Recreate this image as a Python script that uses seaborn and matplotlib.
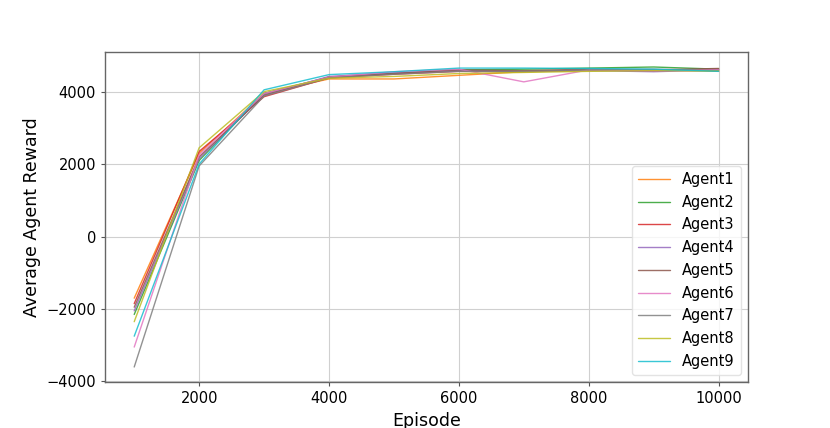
"""Average agent reward per episode, one line per agent."""

import matplotlib
matplotlib.use("Agg")
import matplotlib.pyplot as plt
import seaborn as sns
import pandas as pd

episodes = [1000, 2000, 3000, 4000, 5000, 6000, 7000, 8000, 9000, 10000]

agent1 = [-1700, 2300, 3950, 4350, 4350, 4450, 4550, 4580, 4600, 4560]
agent2 = [-2150, 2100, 3950, 4400, 4500, 4600, 4620, 4650, 4680, 4620]
agent3 = [-1850, 2350, 3860, 4380, 4480, 4560, 4550, 4600, 4570, 4620]
agent4 = [-2050, 2150, 3920, 4420, 4520, 4580, 4560, 4580, 4550, 4600]
agent5 = [-1950, 2200, 3900, 4400, 4500, 4600, 4580, 4620, 4600, 4640]
agent6 = [-3050, 2250, 3950, 4400, 4550, 4620, 4270, 4600, 4580, 4600]
agent7 = [-3600, 1950, 3880, 4380, 4480, 4560, 4560, 4600, 4620, 4580]
agent8 = [-2350, 2450, 4000, 4370, 4420, 4500, 4530, 4560, 4580, 4570]
agent9 = [-2750, 2000, 4050, 4470, 4550, 4650, 4650, 4640, 4620, 4560]

agent_names = ["Agent1", "Agent2", "Agent3", "Agent4", "Agent5",
               "Agent6", "Agent7", "Agent8", "Agent9"]
agent_rewards = [agent1, agent2, agent3, agent4, agent5,
                 agent6, agent7, agent8, agent9]

# long format for seaborn
rows = []
for name, rewards in zip(agent_names, agent_rewards):
    for ep, r in zip(episodes, rewards):
        rows.append({"Episode": ep, "reward": r, "agent": name})
df = pd.DataFrame(rows)

sns.set_style("whitegrid")
plt.rcParams["font.family"] = ["DejaVu Sans"]

# tab10 without the blue
palette = sns.color_palette("tab10")[1:10]

fig = plt.figure(figsize=(8.3, 4.28), dpi=100)
ax = fig.add_axes([0.1265, 0.1075, 0.7745, 0.771])

sns.lineplot(data=df, x="Episode", y="reward", hue="agent",
             palette=palette, linewidth=1.0, alpha=0.85, ax=ax)

ax.set_xlabel("Episode", fontsize=12.5, color="black")
ax.set_ylabel("Average Agent Reward", fontsize=12.5, color="black")
ax.set_xticks([2000, 4000, 6000, 8000, 10000])
ax.set_yticks([-4000, -2000, 0, 2000, 4000])
ax.tick_params(labelsize=10.5, length=3, color="#555555", labelcolor="black",
               left=True, bottom=True)
ax.grid(True, color="#d0d0d0", linewidth=0.8)

for spine in ax.spines.values():
    spine.set_color("#666666")
    spine.set_linewidth(1.0)

leg = ax.legend(loc="lower right", fontsize=10.5, frameon=True,
                handlelength=2.2, labelspacing=0.53)
leg.get_frame().set_edgecolor("#dddddd")
for text in leg.get_texts():
    text.set_color("black")
for line in leg.get_lines():
    line.set_linewidth(1.0)

fig.savefig("out.png", dpi=100)
